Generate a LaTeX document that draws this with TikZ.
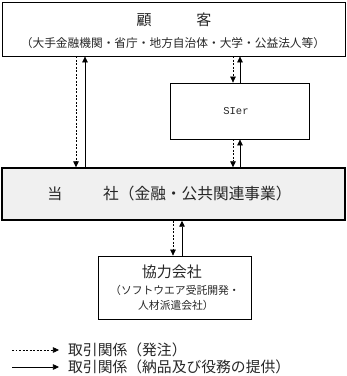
\documentclass[tikz,border=0pt]{standalone}
\usepackage{fontspec}
\setmainfont{Noto Sans CJK JP}
\newfontfamily\monof{Liberation Mono}
\usetikzlibrary{arrows.meta}
\tikzset{
  x=1pt,y=-1pt,
  boxs/.style={draw=black,line width=0.8pt,rectangle,inner sep=0pt},
  dashc/.style={draw=black,line width=0.7pt,dash pattern=on 2pt off 1.5pt,-{Triangle[width=5.5pt,length=6pt]}},
  solidc/.style={draw=black,line width=0.7pt,-{Triangle[width=5.5pt,length=6pt]}},
  lbl/.style={inner sep=0pt,text=black!85},
}
\begin{document}
\begin{tikzpicture}
\useasboundingbox (0,0) rectangle (347,376);
% boxes
\node[boxs,minimum width=343pt,minimum height=54pt] (cust) at (173.5,29) {};
\node[boxs,minimum width=139pt,minimum height=56pt] (sier) at (239.5,111) {};
\node[boxs,fill=black!6,line width=1.4pt,minimum width=343pt,minimum height=52pt] (main) at (173.5,194) {};
\node[boxs,minimum width=153pt,minimum height=63pt] (kyo) at (174.5,287.5) {};
% texts
\node[lbl,font=\fontsize{15}{17}\selectfont] (t1) at (174,20) {顧　　　客};
\node[lbl,font=\fontsize{11.7}{13}\selectfont] (t2) at (173,43) {（大手金融機関・省庁・地方自治体・大学・公益法人等）};
\node[lbl,font=\monof\fontsize{10.5}{12}\selectfont] (t3) at (236,111) {SIer};
\node[lbl,font=\fontsize{15}{17}\selectfont] (t4a) at (55,194) {当};
\node[lbl,font=\fontsize{15.7}{17}\selectfont,anchor=west] (t4b) at (103,194) {社（金融・公共関連事業）};
\node[lbl,font=\fontsize{15}{17}\selectfont] (t5) at (172,272) {協力会社};
\node[lbl,font=\fontsize{10.8}{12}\selectfont] (t6) at (175,290) {（ソフトウエア受託開発・};
\node[lbl,font=\fontsize{10.8}{12}\selectfont] (t7) at (176,305) {人材派遣会社）};
% connectors
\draw[dashc] (cust.south -| 76,0) -- (main.north -| 76,0);
\draw[solidc] (main.north -| 85,0) -- (cust.south -| 85,0);
\draw[dashc] (cust.south -| 233,0) -- (sier.north -| 233,0);
\draw[solidc] (sier.north -| 240,0) -- (cust.south -| 240,0);
\draw[dashc] (sier.south -| 233,0) -- (main.north -| 233,0);
\draw[solidc] (main.north -| 240,0) -- (sier.south -| 240,0);
\draw[dashc] (main.south -| 173,0) -- (kyo.north -| 173,0);
\draw[solidc] (kyo.north -| 182,0) -- (main.south -| 182,0);
% legend
\coordinate (l1a) at (12,350);
\coordinate (l1b) at (59,350);
\coordinate (l2a) at (12,367);
\coordinate (l2b) at (59,367);
\draw[dashc] (l1a) -- (l1b);
\draw[solidc] (l2a) -- (l2b);
\node[lbl,anchor=west,font=\fontsize{14.8}{16}\selectfont] (lg1) at (68,350) {取引関係（発注）};
\node[lbl,anchor=west,font=\fontsize{14.8}{16}\selectfont] (lg2) at (68,367) {取引関係（納品及び役務の提供）};
\end{tikzpicture}
\end{document}
